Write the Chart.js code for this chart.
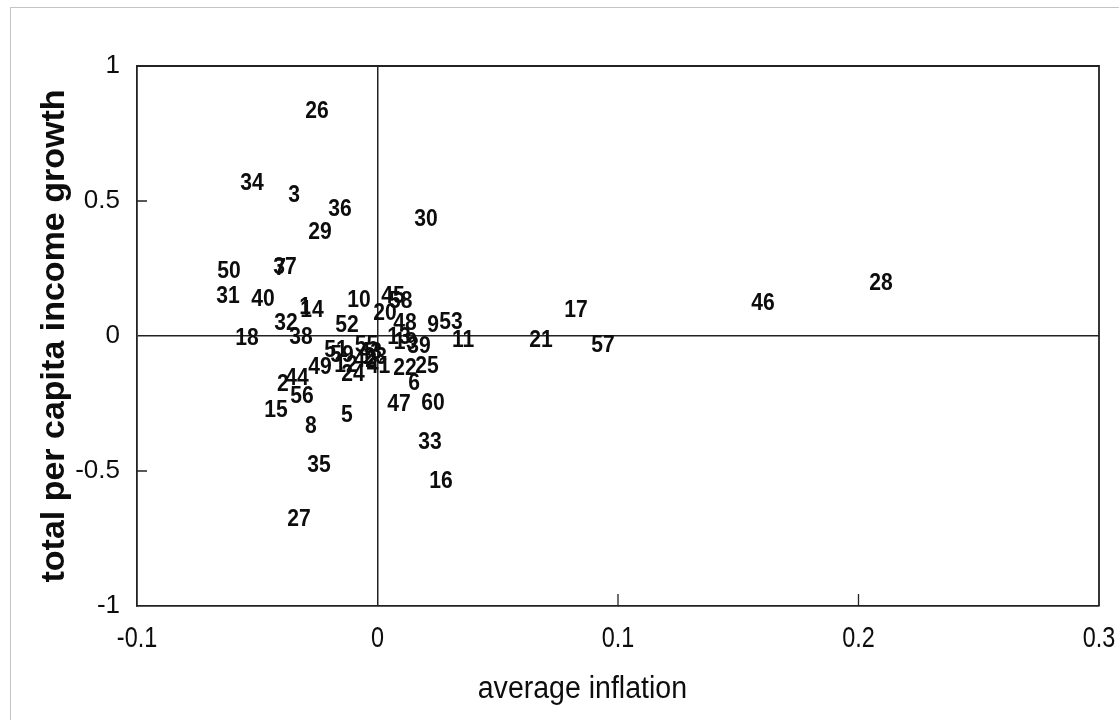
<!DOCTYPE html>
<html>
<head>
<meta charset="utf-8">
<script src="https://cdn.jsdelivr.net/npm/chart.js@4/dist/chart.umd.min.js"></script>
<style>
  html, body { margin: 0; background: #fff; }
  canvas { display: block; }
</style>
</head>
<body>
<canvas id="chart" width="1119" height="720"></canvas>
<script>
// country numbers, average inflation, total per capita income growth
const countries = ['26','34','3','36','29','30','50','7','37','31','40','1','14','10','45','58','20','48','9','53','11','13','19','39','32','18','38','52','21','17','57','46','28','51','59','12','24','55','42','43','23','41','49','22','25','6','47','60','33','16','2','44','56','15','8','5','35','27'];
const inflation = [-0.0252,-0.0522,-0.0347,-0.0156,-0.0239,0.0202,-0.0617,-0.0405,-0.0385,-0.0622,-0.0476,-0.0301,-0.0272,-0.0077,0.0064,0.0097,0.0031,0.0114,0.0231,0.0306,0.0356,0.0089,0.0116,0.0173,-0.0380,-0.0543,-0.0318,-0.0127,0.0680,0.0825,0.0938,0.1603,0.2094,-0.0173,-0.0148,-0.0131,-0.0102,-0.0046,-0.0051,-0.0030,-0.0009,0.0004,-0.0239,0.0114,0.0206,0.0152,0.0089,0.0231,0.0218,0.0264,-0.0393,-0.0335,-0.0314,-0.0422,-0.0277,-0.0127,-0.0243,-0.0326];
const growth = [0.833,0.567,0.522,0.470,0.385,0.433,0.241,0.252,0.256,0.148,0.137,0.107,0.096,0.133,0.148,0.130,0.085,0.048,0.041,0.052,-0.015,-0.004,-0.022,-0.037,0.048,-0.007,-0.004,0.041,-0.015,0.096,-0.033,0.122,0.196,-0.052,-0.070,-0.107,-0.141,-0.033,-0.089,-0.059,-0.081,-0.111,-0.115,-0.119,-0.111,-0.174,-0.252,-0.248,-0.393,-0.537,-0.178,-0.156,-0.222,-0.274,-0.333,-0.293,-0.481,-0.678];
const xTicks = [-0.1, 0, 0.1, 0.2, 0.3];
const yTicks = [-1, -0.5, 0, 0.5, 1];

const ink = '#0d0d0d';
const axisColor = '#222';

// draws text squeezed horizontally, the scan uses a narrow face
function narrowText(ctx, text, x, y, font, sx) {
  ctx.save();
  ctx.font = font;
  ctx.translate(x, y);
  ctx.scale(sx, 1);
  ctx.fillText(text, 0, 0);
  ctx.restore();
}

const numberLabels = {
  id: 'numberLabels',
  afterDatasetsDraw(chart) {
    const ctx = chart.ctx;
    const meta = chart.getDatasetMeta(0);
    ctx.save();
    ctx.fillStyle = ink;
    ctx.textAlign = 'center';
    ctx.textBaseline = 'middle';
    meta.data.forEach((pt, i) => {
      narrowText(ctx, countries[i], pt.x, pt.y, 'bold 24px "Liberation Sans", Arial, sans-serif', 0.88);
    });
    ctx.restore();
  }
};

const frame = {
  id: 'frame',
  afterDraw(chart) {
    const {ctx, chartArea: a, scales: {x, y}} = chart;
    ctx.save();
    // outer grey border of the scanned figure
    ctx.strokeStyle = '#c4c4c4';
    ctx.lineWidth = 1;
    ctx.strokeRect(10.5, 7.5, 1200, 900);
    // top and right edges of the box
    ctx.strokeStyle = axisColor;
    ctx.lineWidth = 1.8;
    ctx.beginPath();
    ctx.moveTo(a.left, a.top); ctx.lineTo(a.right, a.top); ctx.lineTo(a.right, a.bottom);
    ctx.stroke();
    // inward tick marks
    ctx.lineWidth = 1.3;
    ctx.beginPath();
    [0.5, -0.5].forEach(v => { const py = y.getPixelForValue(v); ctx.moveTo(a.left, py); ctx.lineTo(a.left + 10, py); });
    [0.1, 0.2].forEach(v => { const px = x.getPixelForValue(v); ctx.moveTo(px, a.bottom); ctx.lineTo(px, a.bottom - 12); });
    ctx.stroke();
    // x tick labels and title
    ctx.fillStyle = ink;
    ctx.textAlign = 'center';
    ctx.textBaseline = 'middle';
    xTicks.forEach(v => {
      narrowText(ctx, String(v), x.getPixelForValue(v), a.bottom + 33, '30px "Liberation Sans", Arial, sans-serif', 0.78);
    });
    narrowText(ctx, 'average inflation', a.left + (a.right - a.left) * 0.463, a.bottom + 83, '31px "Liberation Sans", Arial, sans-serif', 0.92);
    ctx.restore();
  }
};

const zeroGrid = (c) => (c.tick && c.tick.value === 0) ? axisColor : 'rgba(0,0,0,0)';

new Chart(document.getElementById('chart'), {
  type: 'scatter',
  data: {
    datasets: [{
      data: countries.map((c, i) => ({x: inflation[i], y: growth[i]})),
      pointRadius: 0,
      pointHoverRadius: 0
    }]
  },
  options: {
    responsive: false,
    animation: false,
    events: [],
    layout: {padding: {top: 66, right: 20, left: 0, bottom: 0}},
    plugins: {legend: {display: false}, tooltip: {enabled: false}},
    scales: {
      x: {
        type: 'linear', min: -0.1, max: 0.3,
        afterBuildTicks: s => { s.ticks = xTicks.map(v => ({value: v})); },
        afterFit: s => { s.height = 114; },
        ticks: {display: false},
        grid: {color: zeroGrid, lineWidth: 1.5, drawTicks: false},
        border: {display: true, color: axisColor, width: 1.8}
      },
      y: {
        type: 'linear', min: -1, max: 1,
        afterBuildTicks: s => { s.ticks = yTicks.map(v => ({value: v})); },
        afterFit: s => { s.width = 137; },
        ticks: {
          color: ink, padding: 17,
          font: {family: '"Liberation Sans", Arial, sans-serif', size: 26},
          callback: v => String(v)
        },
        grid: {color: zeroGrid, lineWidth: 1.5, drawTicks: false},
        border: {display: true, color: axisColor, width: 1.8},
        title: {
          display: true,
          text: 'total per capita income growth',
          color: ink,
          font: {family: '"Liberation Sans", Arial, sans-serif', size: 34, weight: 'bold'},
          padding: {top: 34, bottom: 0}
        }
      }
    }
  },
  plugins: [numberLabels, frame]
});
</script>
</body>
</html>
